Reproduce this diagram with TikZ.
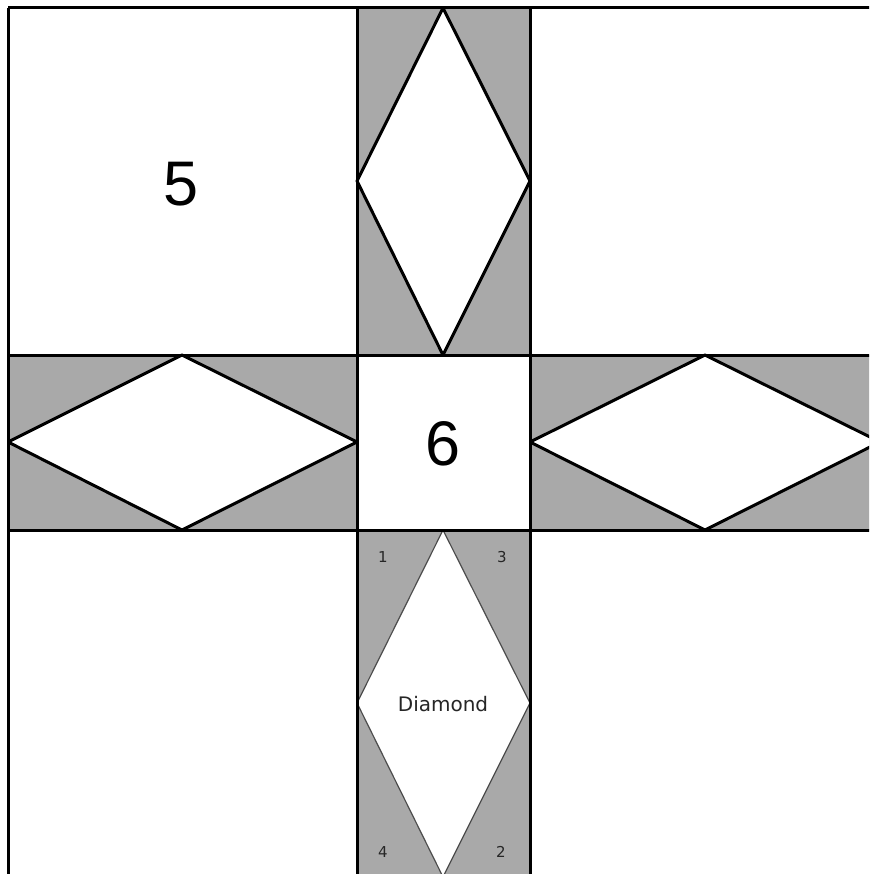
\documentclass[tikz,border=0pt]{standalone}
\usepackage{fontspec}
\setmainfont{Liberation Sans}
\newfontfamily\smallfont{DejaVu Sans}
\usetikzlibrary{positioning}
\definecolor{barGrey}{RGB}{169,169,169}

\begin{document}
\begin{tikzpicture}[x=1pt,y=-1pt,
  bar/.style={fill=barGrey},
  gem/.style={draw,fill=white,line width=3pt,line join=bevel},
  thingem/.style={draw=black!70,fill=white,line width=1.2pt,line join=bevel},
  seam/.style={line width=3pt},
  bignum/.style={font=\fontsize{63}{63}\selectfont},
  piece/.style={font=\smallfont\fontsize{15}{15}\selectfont,text=black!85},
  every node/.style={inner sep=0pt}
]
  \clip (0,0) rectangle (869,874);
  % grey sashing bars
  \fill[bar] (357,8) rectangle (530,355);
  \fill[bar] (357,530) rectangle (530,877);
  \fill[bar] (8,355) rectangle (357,530);
  \fill[bar] (530,355) rectangle (880,530);
  % diamonds
  \draw[gem] (443,8) -- (530,181) -- (443,355) -- (357,181) -- cycle;
  \draw[gem] (8,442) -- (182,355) -- (357,442) -- (182,530) -- cycle;
  \draw[gem] (530,442) -- (705,355) -- (880,442) -- (705,530) -- cycle;
  \draw[thingem] (443,530) -- (530,703) -- (443,877) -- (357,703) -- cycle;
  % seams
  \foreach \x in {8,357,530,880}
    \draw[seam] (\x,8) -- (\x,877);
  \foreach \y in {8,355,530,877}
    \draw[seam] (8,\y) -- (880,\y);
  % labels
  \node[bignum] (five) at (181,184) {5};
  \node[bignum] (six) at (443,444) {6};
  \node[font=\smallfont\fontsize{20}{20}\selectfont,text=black!85] (diamond) at (443,704) {Diamond};
  \node[piece] (p1) at (383,557) {1};
  \node[piece] (p3) at (502,557) {3};
  \node[piece] (p4) at (383,852) {4};
  \node[piece] (p2) at (501,852) {2};
\end{tikzpicture}
\end{document}
